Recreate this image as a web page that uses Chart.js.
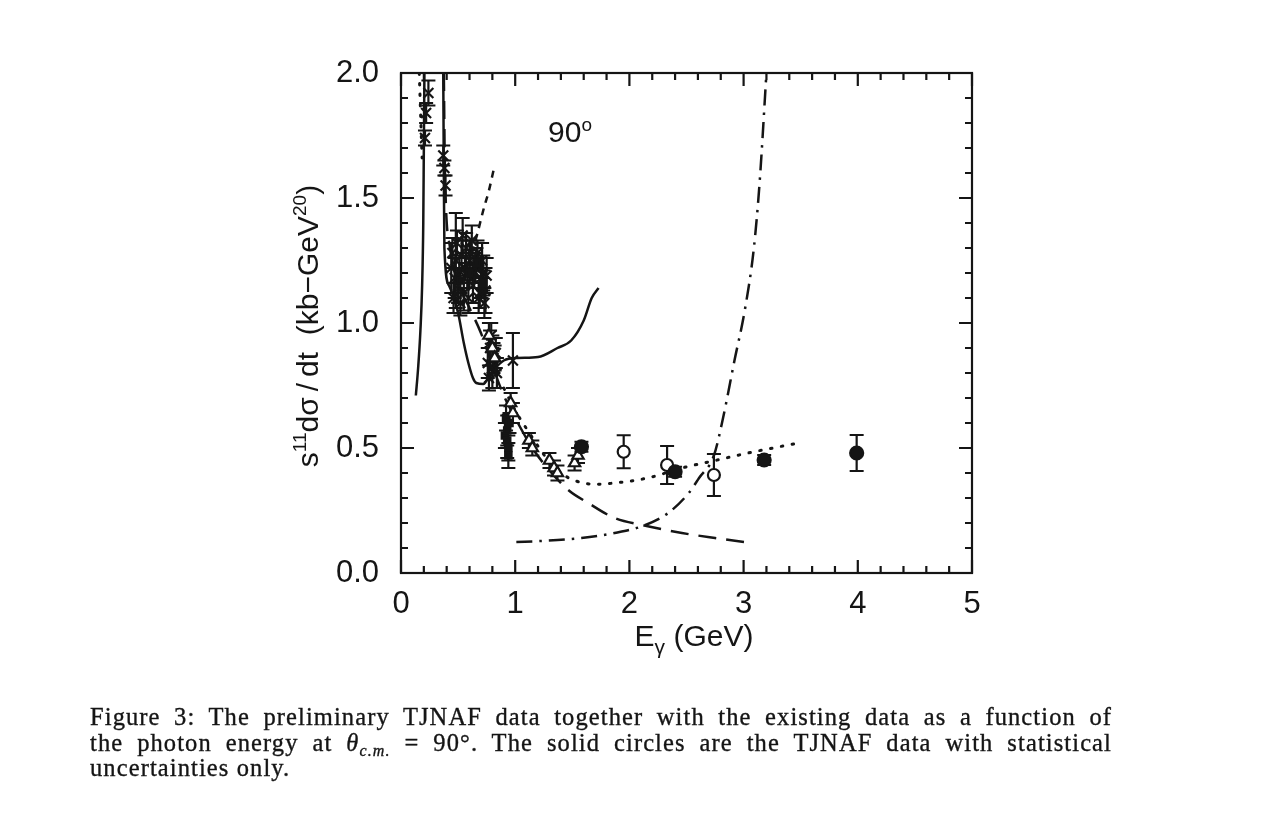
<!DOCTYPE html>
<html><head><meta charset="utf-8">
<script src="https://cdn.jsdelivr.net/npm/chart.js@4.4.1/dist/chart.umd.min.js"></script>
<style>
html,body{margin:0;padding:0;background:#fff;}
#wrap{position:relative;width:1270px;height:822px;overflow:hidden;background:#fff;}
#c{position:absolute;left:0;top:0;}
#cap{position:absolute;left:90px;top:704px;width:1022px;font-family:"Liberation Serif","Times New Roman",serif;font-size:24.5px;line-height:25.5px;color:#151515;letter-spacing:1.1px;-webkit-text-stroke:0.35px #151515;}
#cap .j{text-align:justify;text-align-last:justify;}
#cap i{font-style:italic;}
#cap sub{font-size:16px;vertical-align:-5px;line-height:0;}
</style></head>
<body>
<div id="wrap">
<canvas id="c" width="1270" height="822"></canvas>
<div id="cap">
<div class="j">Figure 3: The preliminary TJNAF data together with the existing data as a function of</div>
<div class="j">the photon energy at <i>θ</i><sub><i>c.m.</i></sub> = 90°. The solid circles are the TJNAF data with statistical</div>
<div>uncertainties only.</div>
</div>
</div>
<script>
// ---------- tick labels ----------
const xTickValues = [0, 1, 2, 3, 4, 5];
const yTickValues = [0, 0.5, 1.0, 1.5, 2.0];

// ---------- measured data ----------
// crosses (existing data)
const crossX   = [0.21, 0.22, 0.24, 0.37, 0.38, 0.39, 0.44, 0.45, 0.46, 0.47, 0.48, 0.49, 0.50, 0.51, 0.52, 0.53, 0.54, 0.55, 0.56, 0.57, 0.58, 0.59, 0.60, 0.61, 0.62, 0.63, 0.64, 0.65, 0.67, 0.68, 0.69, 0.70, 0.71, 0.72, 0.73, 0.74, 0.75, 0.76, 0.77, 0.78, 0.79, 0.80, 0.81, 0.83, 0.84, 0.98];
const crossY   = [1.74, 1.84, 1.92, 1.67, 1.62, 1.55, 1.22, 1.28, 1.10, 1.18, 1.25, 1.32, 1.15, 1.21, 1.08, 1.27, 1.35, 1.12, 1.22, 1.30, 1.19, 1.10, 1.25, 1.28, 1.33, 1.15, 1.20, 1.22, 1.28, 1.10, 1.12, 1.18, 1.25, 1.20, 1.08, 1.13, 1.19, 0.84, 0.78, 0.90, 0.95, 0.82, 0.86, 0.88, 0.80, 0.85];
const crossErr = [0.03, 0.04, 0.05, 0.04, 0.03, 0.04, 0.10, 0.06, 0.06, 0.08, 0.19, 0.05, 0.07, 0.05, 0.05, 0.06, 0.07, 0.07, 0.05, 0.06, 0.05, 0.06, 0.08, 0.05, 0.06, 0.07, 0.06, 0.06, 0.05, 0.06, 0.06, 0.08, 0.07, 0.07, 0.06, 0.09, 0.07, 0.06, 0.05, 0.07, 0.05, 0.08, 0.06, 0.06, 0.06, 0.11];
// small filled squares (existing data)
const squareX   = [0.52, 0.60, 0.66, 0.72, 0.91, 0.92, 0.93, 0.93, 0.94, 0.94, 0.95];
const squareY   = [1.17, 1.20, 1.24, 1.16, 0.55, 0.62, 0.57, 0.53, 0.50, 0.47, 0.60];
const squareErr = [0.05, 0.06, 0.06, 0.05, 0.05, 0.05, 0.06, 0.07, 0.05, 0.05, 0.04];
// open triangles (existing data)
const triX   = [0.77, 0.80, 0.82, 0.96, 0.98, 1.12, 1.15, 1.30, 1.34, 1.37, 1.52, 1.55];
const triY   = [0.95, 0.90, 0.86, 0.68, 0.64, 0.53, 0.50, 0.45, 0.42, 0.40, 0.44, 0.47];
const triErr = [0.05, 0.05, 0.05, 0.04, 0.04, 0.03, 0.03, 0.03, 0.03, 0.03, 0.03, 0.03];
// open circles (existing data)
const openX   = [1.95, 2.33, 2.74];
const openY   = [0.485, 0.432, 0.392];
const openErr = [0.066, 0.076, 0.084];
// solid circles (TJNAF)
const tjX   = [1.58, 2.40, 3.18, 3.99];
const tjY   = [0.505, 0.405, 0.452, 0.48];
const tjErr = [0.02, 0.02, 0.02, 0.072];

// ---------- model curves ----------
const solidLeftX = [0.13, 0.15, 0.17, 0.185, 0.195, 0.20, 0.205];
const solidLeftY = [0.71, 0.82, 0.97, 1.15, 1.40, 1.70, 2.00];
const solidX = [0.37, 0.375, 0.38, 0.42, 0.50, 0.55, 0.59, 0.63, 0.66, 0.72, 0.79, 0.90, 1.02, 1.20, 1.37, 1.49, 1.60, 1.67, 1.73];
const solidY = [2.00, 1.60, 1.30, 1.15, 1.04, 0.92, 0.84, 0.78, 0.76, 0.756, 0.80, 0.85, 0.86, 0.864, 0.90, 0.93, 1.01, 1.10, 1.14];
const dashX = [0.375, 0.385, 0.43, 0.50, 0.60, 0.70, 0.80, 0.90, 1.00, 1.15, 1.30, 1.47, 1.64, 1.87, 2.13, 2.46, 2.75, 3.01];
const dashY = [2.00, 1.60, 1.30, 1.16, 1.06, 0.96, 0.83, 0.71, 0.62, 0.50, 0.41, 0.33, 0.28, 0.22, 0.19, 0.16, 0.14, 0.124];
const shortDashX = [0.62, 0.67, 0.72, 0.77, 0.81];
const shortDashY = [1.28, 1.36, 1.45, 1.53, 1.61];
const dashDotX = [1.01, 1.23, 1.58, 1.87, 2.13, 2.34, 2.52, 2.61, 2.74, 2.82, 2.92, 3.01, 3.09, 3.14, 3.20];
const dashDotY = [0.124, 0.128, 0.14, 0.16, 0.19, 0.24, 0.32, 0.38, 0.47, 0.62, 0.85, 1.05, 1.30, 1.56, 2.00];
const dotTopX = [0.16, 0.17, 0.18, 0.185];
const dotTopY = [2.00, 1.86, 1.72, 1.66];
const dotX = [0.90, 1.00, 1.11, 1.29, 1.40, 1.52, 1.70, 1.87, 2.16, 2.46, 2.75, 3.04, 3.48];
const dotY = [0.74, 0.65, 0.57, 0.45, 0.40, 0.37, 0.355, 0.36, 0.38, 0.42, 0.45, 0.48, 0.52];

const pts = (xs, ys) => xs.map((x, i) => ({x: x, y: ys[i]}));
const INK = '#151515';
const FONT = '"Liberation Sans", Arial, Helvetica, sans-serif';

function curve(xs, ys, dash, width) {
  return {type: 'line', data: pts(xs, ys), borderColor: INK, borderWidth: width || 2.5,
    borderDash: dash, borderCapStyle: dash.length === 2 && dash[0] < 3 ? 'round' : 'butt',
    pointRadius: 0, fill: false, cubicInterpolationMode: 'monotone', order: 2};
}
function markers(xs, ys, errs, style, radius, fillCol) {
  return {type: 'scatter', data: pts(xs, ys), errors: errs, pointStyle: style, pointRadius: radius,
    pointBorderWidth: 2.2, borderColor: INK, pointBackgroundColor: fillCol, backgroundColor: fillCol,
    showLine: false, order: 0};
}

// error bars drawn beneath markers
const errorBars = {
  id: 'errorBars',
  beforeDatasetsDraw(chart) {
    const ctx = chart.ctx, xs = chart.scales.x, ys = chart.scales.y, a = chart.chartArea;
    ctx.save();
    ctx.beginPath(); ctx.rect(a.left, a.top, a.right - a.left, a.bottom - a.top); ctx.clip();
    ctx.strokeStyle = INK; ctx.lineWidth = 2.2;
    chart.data.datasets.forEach(ds => {
      if (!ds.errors) return;
      ds.data.forEach((p, j) => {
        const e = ds.errors[j]; if (!e) return;
        const px = xs.getPixelForValue(p.x);
        const y1 = ys.getPixelForValue(p.y + e), y2 = ys.getPixelForValue(p.y - e);
        const c = 7;
        ctx.beginPath();
        ctx.moveTo(px, y1); ctx.lineTo(px, y2);
        ctx.moveTo(px - c, y1); ctx.lineTo(px + c, y1);
        ctx.moveTo(px - c, y2); ctx.lineTo(px + c, y2);
        ctx.stroke();
      });
    });
    ctx.restore();
  }
};

function richWidth(ctx, parts) {
  let w = 0;
  parts.forEach(p => { ctx.font = p.size + 'px ' + FONT; w += ctx.measureText(p.t).width; });
  return w;
}
function drawRich(ctx, parts, cx, baseY) {
  let x = cx - richWidth(ctx, parts) / 2;
  parts.forEach(p => {
    ctx.font = p.size + 'px ' + FONT;
    ctx.fillText(p.t, x, baseY + (p.dy || 0));
    x += ctx.measureText(p.t).width;
  });
}

// frame, inward ticks, titles and annotation
const frame = {
  id: 'frame',
  afterDraw(chart) {
    const ctx = chart.ctx, a = chart.chartArea, xs = chart.scales.x, ys = chart.scales.y;
    ctx.save();
    ctx.strokeStyle = INK; ctx.lineWidth = 2.2;
    ctx.strokeRect(a.left, a.top, a.right - a.left, a.bottom - a.top);
    ctx.beginPath();
    for (let k = 0; k <= 25; k++) {
      const v = k * 0.2, px = xs.getPixelForValue(v);
      const L = (k % 5 === 0) ? 13 : 7;
      ctx.moveTo(px, a.bottom); ctx.lineTo(px, a.bottom - L);
      ctx.moveTo(px, a.top); ctx.lineTo(px, a.top + L);
    }
    for (let k = 0; k <= 20; k++) {
      const v = k * 0.1, py = ys.getPixelForValue(v);
      const L = (k % 5 === 0) ? 13 : 7;
      ctx.moveTo(a.left, py); ctx.lineTo(a.left + L, py);
      ctx.moveTo(a.right, py); ctx.lineTo(a.right - L, py);
    }
    ctx.stroke();

    ctx.fillStyle = INK; ctx.textBaseline = 'alphabetic';
    // x title
    drawRich(ctx, [{t: 'E', size: 30}, {t: 'γ', size: 21, dy: 8}, {t: ' (GeV)', size: 30}], 694, 646);
    // y title
    ctx.save();
    ctx.translate(318, 326);
    ctx.rotate(-Math.PI / 2);
    drawRich(ctx, [{t: 's', size: 30}, {t: '11', size: 19, dy: -12}, {t: 'dσ\u2009/\u2009dt  (kb\u2212GeV', size: 30}, {t: '20', size: 19, dy: -12}, {t: ')', size: 30}], 0, 0);
    ctx.restore();
    // angle label
    drawRich(ctx, [{t: '90', size: 30}, {t: 'o', size: 19, dy: -11}], 570, 142);
    ctx.restore();
  }
};

Chart.defaults.font.family = FONT;
Chart.defaults.color = INK;

new Chart(document.getElementById('c'), {
  data: {
    datasets: [
      markers(tjX, tjY, tjErr, 'circle', 6.5, INK),
      markers(openX, openY, openErr, 'circle', 6, '#ffffff'),
      markers(triX, triY, triErr, 'triangle', 6.5, '#ffffff'),
      markers(squareX, squareY, squareErr, 'rect', 4.5, INK),
      markers(crossX, crossY, crossErr, 'crossRot', 7, INK),
      curve(solidLeftX, solidLeftY, []),
      curve(solidX, solidY, []),
      curve(dashX, dashY, [18, 10]),
      curve(shortDashX, shortDashY, [7, 6]),
      curve(dashDotX, dashDotY, [16, 7, 2.5, 7]),
      curve(dotTopX, dotTopY, [1.5, 9], 3),
      curve(dotX, dotY, [1.5, 9.5], 3)
    ]
  },
  options: {
    responsive: false,
    animation: false,
    events: [],
    layout: {padding: {left: 321, right: 298, top: 73, bottom: 189}},
    plugins: {legend: {display: false}, tooltip: {enabled: false}},
    scales: {
      x: {
        type: 'linear', min: 0, max: 5,
        afterBuildTicks: s => { s.ticks = xTickValues.map(v => ({value: v})); },
        afterFit: s => { s.height = 60; },
        grid: {display: false, drawTicks: false},
        border: {display: false},
        ticks: {padding: 13, font: {size: 31}, color: INK, callback: v => String(v)}
      },
      y: {
        type: 'linear', min: 0, max: 2,
        afterBuildTicks: s => { s.ticks = yTickValues.map(v => ({value: v})); },
        afterFit: s => { s.width = 80; },
        grid: {display: false, drawTicks: false},
        border: {display: false},
        ticks: {padding: 22, font: {size: 31}, color: INK, callback: v => Number(v).toFixed(1)}
      }
    }
  },
  plugins: [errorBars, frame]
});
</script>
</body></html>
